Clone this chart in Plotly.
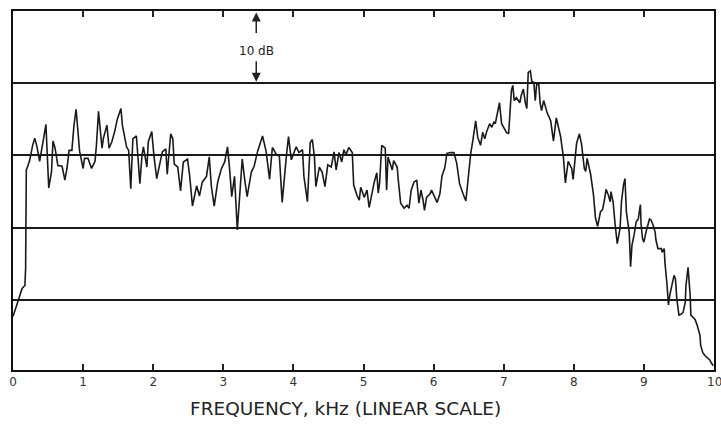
import plotly.graph_objects as go

# Frequency (kHz) and level (dB, arbitrary reference; grid every 10 dB)
freq_khz = [
    0.00, 0.03, 0.07, 0.13, 0.17, 0.18, 0.18, 0.19, 0.21, 0.24,
    0.28, 0.31, 0.34, 0.38, 0.43, 0.47, 0.48, 0.51, 0.55, 0.57,
    0.60, 0.64, 0.70, 0.74, 0.77, 0.80, 0.84, 0.87, 0.90, 0.92,
    0.95, 1.00, 1.02, 1.07, 1.12, 1.17, 1.19, 1.22, 1.27, 1.29,
    1.34, 1.37, 1.41, 1.45, 1.49, 1.54, 1.56, 1.62, 1.65,
    1.68, 1.71, 1.76, 1.81, 1.84, 1.86, 1.91, 1.93, 1.98, 2.01,
    2.05, 2.09, 2.13, 2.18, 2.20, 2.25, 2.28, 2.30, 2.35, 2.39,
    2.43, 2.49, 2.52, 2.56, 2.62, 2.66, 2.70, 2.76, 2.80, 2.83,
    2.87, 2.92, 2.97, 3.02, 3.06, 3.09, 3.12, 3.16, 3.20, 3.23, 3.27,
    3.31, 3.34, 3.40, 3.44, 3.49, 3.56, 3.61, 3.66, 3.70, 3.76,
    3.80, 3.84, 3.90, 3.93, 3.97, 4.01, 4.04, 4.08, 4.13, 4.15,
    4.20, 4.24, 4.27, 4.30, 4.32, 4.37, 4.41, 4.45, 4.49, 4.54,
    4.58, 4.61, 4.65, 4.69, 4.72, 4.75, 4.79, 4.84,
    4.86, 4.91, 4.94, 4.96, 5.01, 5.05, 5.08, 5.11, 5.15, 5.19,
    5.21, 5.23, 5.26, 5.31, 5.33, 5.35, 5.38, 5.41, 5.43, 5.48,
    5.50, 5.53, 5.58, 5.62, 5.65, 5.68, 5.72, 5.76, 5.79, 5.82,
    5.85, 5.87, 5.90, 5.95, 5.97, 6.02, 6.05, 6.09, 6.12, 6.16,
    6.19, 6.24, 6.29, 6.33, 6.37, 6.42, 6.46, 6.49, 6.53, 6.56,
    6.60, 6.63, 6.67, 6.70, 6.73, 6.76, 6.80, 6.83, 6.86, 6.88,
    6.91, 6.94, 6.97, 7.01, 7.04, 7.07, 7.11, 7.13, 7.15, 7.18,
    7.23, 7.25, 7.28, 7.31, 7.33, 7.35, 7.38, 7.40, 7.43, 7.45,
    7.47, 7.50, 7.52, 7.54, 7.57, 7.60, 7.62, 7.67, 7.71, 7.75,
    7.78, 7.81, 7.85, 7.88, 7.92, 7.97, 7.99, 8.04, 8.08, 8.11,
    8.15, 8.17, 8.19, 8.24,
    8.26, 8.28, 8.31, 8.34, 8.38, 8.41, 8.44, 8.46, 8.49, 8.52,
    8.53, 8.56, 8.59, 8.62, 8.66, 8.68, 8.71, 8.73, 8.75, 8.79,
    8.81, 8.83, 8.86, 8.89, 8.92, 8.95, 8.96, 8.98, 9.00, 9.03,
    9.08, 9.10, 9.13, 9.16, 9.17, 9.20, 9.25, 9.26, 9.29, 9.30,
    9.33, 9.35, 9.37, 9.40, 9.43, 9.45, 9.47, 9.50, 9.53, 9.56,
    9.59, 9.60, 9.63, 9.66, 9.67, 9.70, 9.73, 9.76, 9.80, 9.81,
    9.84, 9.87, 9.90, 9.94, 9.96, 9.99,
]

level_db = [
    7.7, 8.5, 9.8, 11.6, 12.0, 14.4, 24.1, 28.0, 28.5, 29.4,
    31.4, 32.4, 31.3, 29.2, 32.0, 34.3, 32.0, 25.5, 27.8, 32.0,
    31.0, 28.6, 28.5, 26.6, 28.2, 30.7, 30.7, 34.2, 36.4, 33.8,
    30.6, 28.2, 29.6, 29.6, 28.2, 29.2, 31.4, 36.1, 31.0, 32.4,
    34.2, 31.0, 31.9, 33.3, 35.1, 36.5, 34.2, 31.2, 30.7,
    25.4, 32.3, 32.7, 26.1, 30.0, 31.2, 28.4, 31.9, 33.3, 30.0,
    26.8, 28.6, 30.5, 30.9, 27.4, 33.0, 32.3, 28.8, 28.4, 25.1,
    29.1, 29.5, 27.2, 23.0, 25.8, 24.4, 26.3, 27.1, 29.8, 25.7,
    23.0, 26.3, 28.1, 29.1, 31.2, 28.1, 24.3, 27.1, 19.7, 23.9, 29.5,
    26.3, 24.3, 27.7, 28.5, 30.6, 32.7, 30.6, 26.7, 31.1, 30.1,
    29.9, 23.5, 29.9, 32.6, 29.4, 30.4, 31.2, 30.4, 30.8, 27.1,
    23.6, 31.8, 32.2, 29.8, 25.7, 28.4, 27.7, 25.7, 28.7, 28.4,
    30.5, 28.0, 30.4, 29.1, 30.8, 30.1, 31.1, 30.4,
    25.9, 24.4, 23.8, 25.6, 24.2, 25.2, 22.8, 24.2, 26.2, 27.6,
    24.8, 26.2, 31.4, 31.0, 25.2, 29.8, 28.9, 28.0, 29.3, 28.4,
    26.2, 23.4, 22.7, 23.1, 22.7, 25.2, 26.3, 26.6, 23.4, 25.2,
    23.8, 22.4, 24.2, 24.7, 25.2, 24.2, 23.5, 24.7, 27.2, 28.3,
    30.3, 30.4, 30.4, 28.9, 26.1, 24.7, 23.7, 26.5, 30.3, 32.1,
    34.8, 32.5, 31.4, 33.2, 32.3, 33.4, 34.4, 33.9, 34.6, 34.4,
    35.8, 37.3, 34.4, 33.8, 33.2, 33.0, 39.0, 39.7, 37.6, 38.0,
    37.3, 38.3, 39.2, 37.2, 36.5, 41.5, 41.7, 40.3, 40.1, 37.6,
    39.8, 39.9, 37.2, 36.2, 37.6, 36.6, 35.9, 34.8, 32.0, 35.2,
    34.1, 32.7, 29.9, 26.2, 29.2, 28.2, 26.7, 31.7, 33.0, 31.6,
    28.2, 27.8, 29.6, 27.4,
    26.0, 24.6, 21.3, 20.2, 22.2, 22.5, 24.0, 25.3, 24.6, 23.6,
    25.0, 23.6, 20.4, 17.8, 19.9, 23.6, 26.0, 26.8, 22.2, 19.4,
    14.6, 17.6, 19.0, 20.8, 21.2, 23.2, 20.4, 18.5, 18.0, 19.4,
    21.2, 21.1, 20.4, 19.4, 18.4, 17.1, 17.1, 16.6, 17.1, 15.2,
    12.1, 9.3, 10.7, 12.0, 13.4, 12.9, 10.1, 7.9, 8.0, 8.3,
    9.7, 12.0, 14.5, 10.6, 7.9, 7.6, 7.3, 6.5, 5.1, 3.7,
    2.7, 2.3, 2.0, 1.7, 1.3, 0.9,
]

x_ticks = [0, 1, 2, 3, 4, 5, 6, 7, 8, 9, 10]
x_tick_labels = ["0", "1", "2", "3", "4", "5", "6", "7", "8", "9", "10"]
grid_db = [10, 20, 30, 40]
scale_label = "10 dB"
scale_x_khz = 3.47
x_title = "FREQUENCY, kHz (LINEAR SCALE)"

assert len(freq_khz) == len(level_db)

fig = go.Figure()
fig.add_trace(go.Scatter(
    x=freq_khz, y=level_db, mode="lines",
    line=dict(color="#1a1a1a", width=1.6),
    hoverinfo="skip", showlegend=False,
))

tick_font = dict(family="DejaVu Sans", size=12, color="#333")

fig.update_layout(
    width=721, height=425,
    margin=dict(l=13, r=5, t=11, b=55),
    paper_bgcolor="white", plot_bgcolor="white",
    xaxis=dict(
        range=[0, 10], tickvals=x_ticks[:-1], ticktext=x_tick_labels[:-1],
        ticks="inside", ticklen=6, tickwidth=1.5, tickcolor="#222",
        showline=True, linewidth=2, linecolor="#111", mirror="ticks",
        showgrid=False, zeroline=False,
        tickfont=tick_font,
    ),
    yaxis=dict(
        range=[0.3, 50], tickvals=grid_db, showticklabels=False, ticks="",
        showgrid=True, gridcolor="#1a1a1a", gridwidth=1.6,
        showline=True, linewidth=2, linecolor="#111", mirror=True,
        zeroline=False,
    ),
    annotations=[
        # last tick label, placed manually so it is not dropped at the edge
        dict(text=x_tick_labels[-1], x=x_ticks[-1], xref="x", y=0, yref="paper",
             xanchor="center", yanchor="top", yshift=-3, showarrow=False,
             font=tick_font),
        dict(text=x_title, xref="paper", yref="paper", x=0.475, y=-0.106,
             xanchor="center", yanchor="middle", showarrow=False,
             font=dict(family="DejaVu Sans", size=18.5, color="#222")),
        dict(text=scale_label, x=scale_x_khz, y=44.5, xref="x", yref="y",
             showarrow=False, xanchor="center", yanchor="middle",
             font=dict(family="DejaVu Sans", size=12, color="#222")),
        dict(text="", x=scale_x_khz, y=49.8, xref="x", yref="y",
             showarrow=True, ax=0, ay=22, arrowhead=2, arrowsize=1.2,
             arrowwidth=1.5, arrowcolor="#222"),
        dict(text="", x=scale_x_khz, y=40.2, xref="x", yref="y",
             showarrow=True, ax=0, ay=-22, arrowhead=2, arrowsize=1.2,
             arrowwidth=1.5, arrowcolor="#222"),
    ],
)

fig.write_html("out.html")
